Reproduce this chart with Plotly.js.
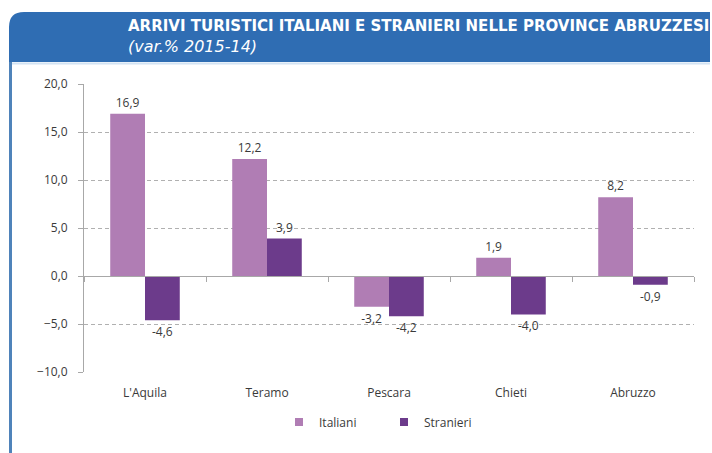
<!DOCTYPE html>
<html>
<head>
<meta charset="utf-8">
<script src="https://cdn.plot.ly/plotly-3.0.1.min.js"></script>
<style>
html,body{margin:0;padding:0;background:#ffffff;}
#chart{width:712px;height:453px;}
</style>
</head>
<body>
<div id="chart"></div>
<script>
// ---- data ----
var categories = ["L'Aquila", "Teramo", "Pescara", "Chieti", "Abruzzo"];
var italiani = [16.9, 12.2, -3.2, 1.9, 8.2];
var stranieri = [-4.6, 3.9, -4.2, -4.0, -0.9];
var seriesNames = ["Italiani", "Stranieri"];
var seriesColors = ["#b07db4", "#6c3b8b"];
var yTicks = [-10, -5, 0, 5, 10, 15, 20];
var titleText = "ARRIVI TURISTICI ITALIANI E STRANIERI NELLE PROVINCE ABRUZZESI";
var subtitleText = "(var.% 2015-14)";

// ---- layout helpers (pixel -> paper) ----
var W = 712, H = 453;
var mL = 84, mR = 18, mT = 84, mB = 81;
var pw = W - mL - mR, ph = H - mT - mB;
function X(px){ return (px - mL) / pw; }
function Y(py){ return (H - mB - py) / ph; }

var labelFont = {family: "Open Sans, Lato, sans-serif", size: 12, color: "#3a3a3a"};

var traces = [
  {
    type: "bar", name: seriesNames[0], x: categories, y: italiani,
    marker: {color: seriesColors[0]}, showlegend: false,
    text: italiani, texttemplate: "%{y:.1f}", textposition: "outside",
    textfont: labelFont, cliponaxis: false, hoverinfo: "x+y"
  },
  {
    type: "bar", name: seriesNames[1], x: categories, y: stranieri,
    marker: {color: seriesColors[1]}, showlegend: false,
    text: stranieri, texttemplate: "%{y:.1f}", textposition: "outside",
    textfont: labelFont, cliponaxis: false, hoverinfo: "x+y"
  },
  // legend entries (small square swatches)
  {
    type: "scatter", mode: "markers", name: seriesNames[0], x: [null], y: [null],
    marker: {symbol: "square", size: 8, color: seriesColors[0]}, hoverinfo: "skip"
  },
  {
    type: "scatter", mode: "markers", name: seriesNames[1], x: [null], y: [null],
    marker: {symbol: "square", size: 8, color: seriesColors[1]}, hoverinfo: "skip"
  },
  // invisible trace carrying the category tick axis drawn at zero
  {
    type: "scatter", mode: "markers", x: categories, y: categories.map(function(){return 0;}),
    xaxis: "x2", yaxis: "y", marker: {opacity: 0}, showlegend: false, hoverinfo: "skip"
  }
];

var hdr = "#2f6db3";
var layout = {
  width: W, height: H,
  margin: {l: mL, r: mR, t: mT, b: mB, autoexpand: false},
  paper_bgcolor: "#ffffff",
  plot_bgcolor: "#ffffff",
  separators: ",.",
  barmode: "group",
  bargap: 0.43,
  bargroupgap: 0,
  font: labelFont,
  showlegend: true,
  legend: {
    orientation: "h", x: X(279), xanchor: "left", y: Y(422), yanchor: "middle",
    font: labelFont, entrywidth: 60, entrywidthmode: "pixels", itemwidth: 30,
    bgcolor: "rgba(0,0,0,0)"
  },
  xaxis: {
    type: "category", categoryorder: "array", categoryarray: categories,
    range: [-0.5, 4.5], showline: false, ticks: "", showgrid: false,
    tickfont: labelFont, ticklabelstandoff: 12, fixedrange: true
  },
  xaxis2: {
    type: "category", categoryorder: "array", categoryarray: categories,
    range: [-0.5, 4.5], overlaying: "x", anchor: "free", position: Y(276),
    showline: true, linecolor: "#a8a8a8", linewidth: 1,
    ticks: "outside", tickson: "boundaries", ticklen: 5, tickcolor: "#a8a8a8",
    showticklabels: false, showgrid: false, fixedrange: true
  },
  yaxis: {
    range: [-10, 20], tickvals: yTicks, tickformat: ".1f",
    showgrid: true, gridcolor: "#b0b0b0", griddash: "4px,3px", gridwidth: 1,
    zeroline: true, zerolinecolor: "#a8a8a8", zerolinewidth: 1,
    showline: true, linecolor: "#a8a8a8", linewidth: 1,
    ticks: "outside", ticklen: 5, tickcolor: "#a8a8a8",
    tickfont: labelFont, ticklabelstandoff: 8, fixedrange: true
  },
  shapes: [
    {type: "path", xref: "paper", yref: "paper", layer: "below",
     path: "M " + X(9) + "," + Y(62) + " L " + X(9) + "," + Y(27) +
           " Q " + X(9) + "," + Y(12) + " " + X(24) + "," + Y(12) +
           " L " + X(710) + "," + Y(12) + " L " + X(710) + "," + Y(62) + " Z",
     fillcolor: hdr, line: {width: 0}},
    {type: "line", xref: "paper", yref: "paper", x0: X(12), x1: X(710), y0: Y(63.5), y1: Y(63.5),
     line: {color: "#d3e3f3", width: 2}},
    {type: "line", xref: "paper", yref: "paper", x0: X(10.5), x1: X(10.5), y0: Y(62), y1: Y(453),
     line: {color: "#4f83ba", width: 3}}
  ],
  annotations: [
    {xref: "paper", yref: "paper", x: X(126), y: Y(25), xanchor: "left", yanchor: "middle",
     text: "<b>" + titleText + "</b>", showarrow: false,
     font: {family: "DejaVu Sans Condensed, Liberation Sans Narrow, sans-serif", size: 16.7, color: "#ffffff"}},
    {xref: "paper", yref: "paper", x: X(126), y: Y(47), xanchor: "left", yanchor: "middle",
     text: "<i>" + subtitleText + "</i>", showarrow: false,
     font: {family: "DejaVu Sans, sans-serif", size: 16, color: "#ffffff"}}
  ]
};

Plotly.newPlot("chart", traces, layout, {displayModeBar: false, staticPlot: true});
</script>
</body>
</html>
